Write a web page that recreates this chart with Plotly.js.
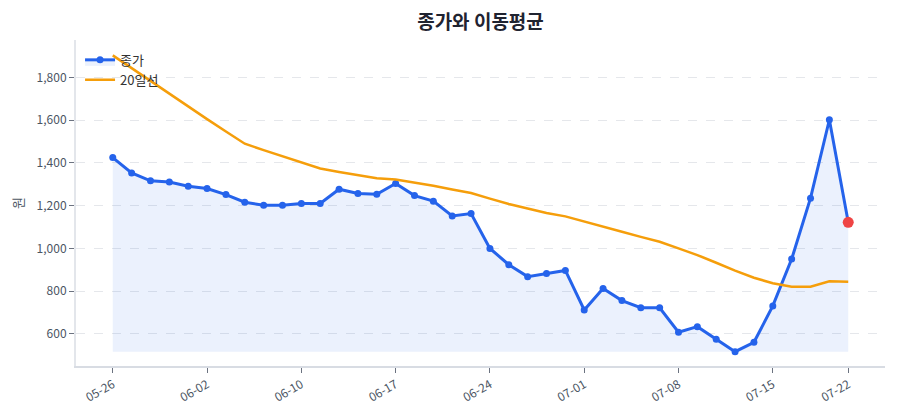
<!DOCTYPE html>
<html>
<head>
<meta charset="utf-8">
<script src="https://cdn.plot.ly/plotly-3.0.1.min.js"></script>
<style>
  html, body { margin: 0; padding: 0; background: #ffffff; }
  #chart { width: 900px; height: 420px; }
</style>
</head>
<body>
<div id="chart"></div>
<script>
// Trading days shown on the axis
const dates = [
  '05-26', '05-27', '05-28', '05-29', '05-30',
  '06-02', '06-04', '06-05', '06-06', '06-09',
  '06-10', '06-11', '06-12', '06-13', '06-16',
  '06-17', '06-18', '06-19', '06-20', '06-23',
  '06-24', '06-25', '06-26', '06-27', '06-30',
  '07-01', '07-02', '07-03', '07-04', '07-07',
  '07-08', '07-09', '07-10', '07-11', '07-14',
  '07-15', '07-16', '07-17', '07-18', '07-22'
];

// Closing price (원)
const closePrice = [
  1425, 1353, 1316, 1311, 1291,
  1280, 1252, 1216, 1202, 1202,
  1210, 1210, 1277, 1257, 1253,
  1304, 1247, 1221, 1152, 1163,
  1000, 924, 868, 883, 897,
  712, 813, 756, 723, 722,
  608, 634, 575, 517, 561,
  731, 950, 1235, 1602, 1122
];

// 20-day moving average (원)
const ma20 = [
  1903, 1843, 1783, 1722, 1662,
  1605, 1547, 1490, 1460, 1431,
  1401, 1374, 1358, 1342, 1328,
  1322, 1308, 1293, 1276, 1259,
  1233, 1208, 1187, 1166, 1150,
  1125, 1101, 1078, 1054, 1031,
  1000, 969, 933, 896, 863,
  837, 821, 821, 846, 844
];

const tickDates = ['05-26', '06-02', '06-10', '06-17', '06-24', '07-01', '07-08', '07-15', '07-22'];
const yTicks = [600, 800, 1000, 1200, 1400, 1600, 1800];

const FONT = '"Noto Sans CJK KR", "Noto Sans", sans-serif';
const BLUE = '#2563eb';
const ORANGE = '#f59e0b';
const RED = '#ef4444';

const floor = Math.min.apply(null, closePrice);
const lastIdx = dates.length - 1;

const traces = [
  // invisible floor for the shaded area under the close line
  {
    x: dates, y: dates.map(() => floor),
    type: 'scatter', mode: 'lines',
    line: { width: 0, color: 'rgba(0,0,0,0)' },
    showlegend: false, hoverinfo: 'skip'
  },
  {
    x: dates, y: closePrice,
    name: '종가', type: 'scatter', mode: 'lines+markers',
    fill: 'tonexty', fillcolor: 'rgba(37,99,235,0.09)',
    line: { color: BLUE, width: 3 },
    marker: { color: BLUE, size: 7 }
  },
  {
    x: dates, y: ma20,
    name: '20일선', type: 'scatter', mode: 'lines',
    line: { color: ORANGE, width: 2.5 }
  },
  // latest close highlighted
  {
    x: [dates[lastIdx]], y: [closePrice[lastIdx]],
    type: 'scatter', mode: 'markers',
    marker: { color: RED, size: 11 },
    showlegend: false
  }
];

const layout = {
  width: 900, height: 420,
  margin: { l: 76, r: 15, t: 40, b: 54 },
  paper_bgcolor: '#ffffff', plot_bgcolor: '#ffffff',
  font: { family: FONT, size: 12, color: '#4b5563' },
  title: {
    text: '<b>종가와 이동평균</b>',
    x: 0.5, xref: 'paper', xanchor: 'center',
    y: 0.962, yref: 'container',
    font: { family: FONT, size: 19, color: '#1f2330' }
  },
  xaxis: {
    type: 'category',
    range: [-1.95, lastIdx + 1.95],
    tickmode: 'array', tickvals: tickDates, ticktext: tickDates,
    tickangle: -30,
    ticks: 'outside', ticklen: 5, tickcolor: '#6b7280',
    tickfont: { size: 12, color: '#4b5563' },
    showgrid: false, zeroline: false,
    showline: true, linecolor: '#d8dce3', linewidth: 2
  },
  yaxis: {
    range: [450, 1975],
    tickmode: 'array', tickvals: yTicks,
    tickformat: ',d',
    ticks: 'outside', ticklen: 5, tickcolor: '#6b7280',
    tickfont: { size: 12, color: '#4b5563' },
    showgrid: true, gridcolor: '#e5e7eb', griddash: 'dash', gridwidth: 1,
    zeroline: false,
    showline: true, linecolor: '#e3e6eb', linewidth: 2,
    title: { text: '원', font: { size: 13, color: '#4b5563' }, standoff: 10 }
  },
  legend: {
    x: 0.005, y: 0.985, xanchor: 'left', yanchor: 'top',
    traceorder: 'normal',
    bgcolor: 'rgba(0,0,0,0)',
    font: { size: 13, color: '#333333' },
    tracegroupgap: 0
  },
  showlegend: true
};

Plotly.newPlot('chart', traces, layout, { displayModeBar: false, staticPlot: true });
</script>
</body>
</html>
